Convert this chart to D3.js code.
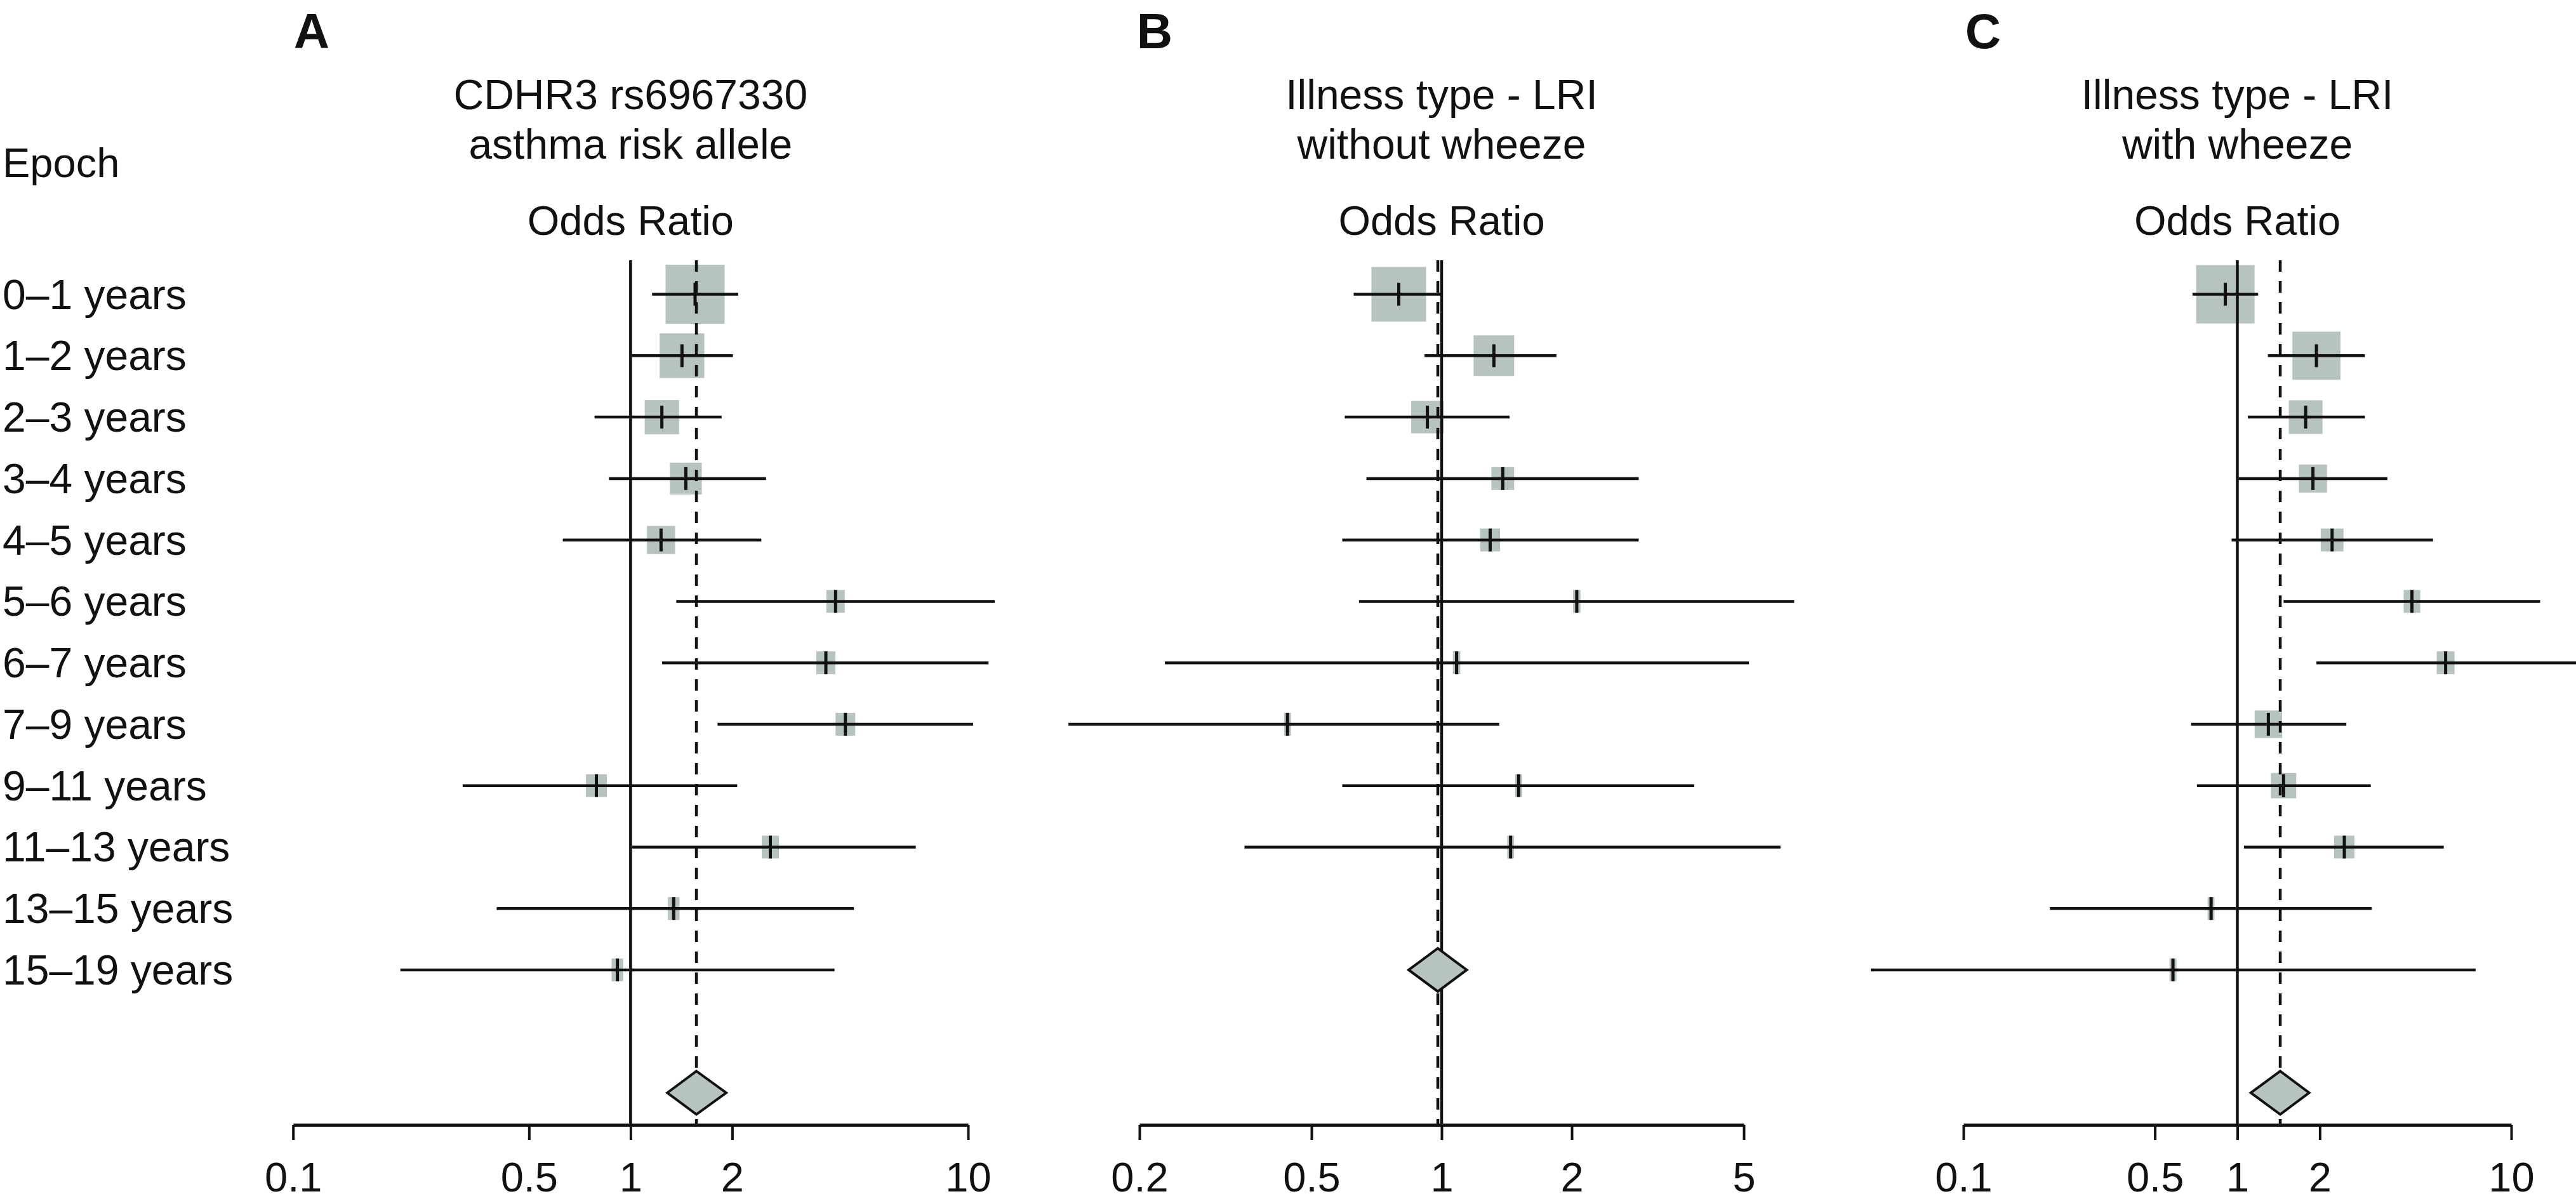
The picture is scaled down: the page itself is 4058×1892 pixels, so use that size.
<!DOCTYPE html>
<html>
<head>
<meta charset="utf-8">
<script src="https://cdn.jsdelivr.net/npm/d3@7"></script>
<style>
  html, body { margin: 0; padding: 0; background: #fff; }
  svg { display: block; }
  text { font-family: "Liberation Sans", Arial, Helvetica, sans-serif; fill: #111; }
</style>
</head>
<body>
<script>
// ---------------- DATA ----------------
const epochs = ["0–1 years","1–2 years","2–3 years","3–4 years","4–5 years","5–6 years",
                "6–7 years","7–9 years","9–11 years","11–13 years","13–15 years","15–19 years"];

// Panel A: CDHR3 rs6967330 asthma risk allele
const estA = [1.553, 1.42, 1.238, 1.458, 1.231, 4.05, 3.79, 4.33, 0.792, 2.595, 1.342, 0.914];
const loA  = [1.158, 1.01, 0.782, 0.863, 0.63, 1.366, 1.24, 1.81, 0.318, 1.01, 0.401, 0.208];
const hiA  = [2.085, 2.01, 1.861, 2.52, 2.44, 12.0, 11.5, 10.35, 2.07, 7.0, 4.59, 4.02];
const wtA  = [18.9, 14.3, 11.0, 10.2, 9.0, 5.9, 6.1, 6.3, 6.7, 5.5, 3.7, 3.7];
const sumA = [1.567, 1.285, 1.92];   // estimate, lower, upper
const ticksA = [0.1, 0.5, 1, 2, 10];

// Panel B: Illness type - LRI without wheeze
const estB = [0.796, 1.321, 0.927, 1.385, 1.295, 2.054, 1.083, 0.44, 1.507, 1.444];
const loB  = [0.626, 0.913, 0.597, 0.67, 0.589, 0.644, 0.229, 0.137, 0.589, 0.35];
const hiB  = [1.0, 1.843, 1.436, 2.857, 2.857, 6.54, 5.14, 1.359, 3.84, 6.08];
const wtB  = [17.5, 13.0, 10.4, 7.3, 6.3, 2.4, 2.4, 2.2, 2.2, 2.2];
const sumB = [0.98, 0.839, 1.143];
const ticksB = [0.2, 0.5, 1, 2, 5];

// Panel C: Illness type - LRI with wheeze
const estC = [0.904, 1.944, 1.776, 1.888, 2.218, 4.34, 5.76, 1.298, 1.475, 2.458, 0.802, 0.582];
const loC  = [0.686, 1.293, 1.093, 1.01, 0.953, 1.475, 1.944, 0.678, 0.712, 1.057, 0.207, 0.0459];
const hiC  = [1.191, 2.922, 2.922, 3.53, 5.18, 12.75, 18.0, 2.50, 3.07, 5.67, 3.095, 7.41];
const wtC  = [18.7, 15.4, 10.8, 9.0, 7.3, 5.3, 5.7, 8.8, 8.1, 6.5, 2.2, 2.2];
const sumC = [1.434, 1.12, 1.828];
const ticksC = [0.1, 0.5, 1, 2, 10];

const titles = [
  ["CDHR3 rs6967330", "asthma risk allele"],
  ["Illness type - LRI", "without wheeze"],
  ["Illness type - LRI", "with wheeze"]
];
const letters = ["A", "B", "C"];

// ---------------- LAYOUT ----------------
const W = 4058, H = 1892;
const FONT = 65;
const axisY = 1772;
const lineTop = 410;
const boxColor = "#b7c3bf";

const svg = d3.select("body").append("svg").attr("width", W).attr("height", H);

const y = d3.scaleLinear().domain([0, 13]).range([463.6, 1721.5]);
const boxPx = d3.scaleLinear().domain([0, 100]).range([0, 492]);

// left labels
svg.append("text").attr("x", 4).attr("y", 279).attr("font-size", FONT).text("Epoch");
svg.selectAll("text.row").data(epochs).enter().append("text")
  .attr("class", "row").attr("x", 4).attr("y", (d, i) => y(i) + 23)
  .attr("font-size", FONT + 1).text(d => d);

const panels = [
  {est: estA, lo: loA, hi: hiA, wt: wtA, sum: sumA, ticks: ticksA, domain: [0.1, 10], range: [461.7, 1525], letterX: 491},
  {est: estB, lo: loB, hi: hiB, wt: wtB, sum: sumB, ticks: ticksB, domain: [0.2, 5],  range: [1795, 2747],   letterX: 1819},
  {est: estC, lo: loC, hi: hiC, wt: wtC, sum: sumC, ticks: ticksC, domain: [0.1, 10], range: [3093, 3956],   letterX: 3124}
];

panels.forEach((p, k) => {
  const x = d3.scaleLog().domain(p.domain).range(p.range);
  const g = svg.append("g");
  const cx = x(1);

  // letter
  g.append("text").attr("x", p.letterX).attr("y", 76).attr("text-anchor", "middle")
    .attr("font-size", 78).attr("font-weight", "bold").text(letters[k]);
  // titles
  g.append("text").attr("x", cx).attr("y", 172).attr("text-anchor", "middle")
    .attr("font-size", FONT + 1).text(titles[k][0]);
  g.append("text").attr("x", cx).attr("y", 250).attr("text-anchor", "middle")
    .attr("font-size", FONT + 1).text(titles[k][1]);
  g.append("text").attr("x", cx).attr("y", 370).attr("text-anchor", "middle")
    .attr("font-size", FONT).text("Odds Ratio");

  const rows = p.est.map((e, i) => ({e, lo: p.lo[i], hi: p.hi[i], w: p.wt[i], i}));

  // boxes
  g.selectAll("rect.box").data(rows).enter().append("rect")
    .attr("class", "box")
    .attr("x", d => x(d.e) - boxPx(d.w) / 2)
    .attr("width", d => boxPx(d.w))
    .attr("y", d => y(d.i) - Math.max(boxPx(d.w), 36) / 2)
    .attr("height", d => Math.max(boxPx(d.w), 36))
    .attr("fill", boxColor);

  // reference line at 1 (solid)
  g.append("line").attr("x1", cx).attr("x2", cx).attr("y1", lineTop).attr("y2", axisY)
    .attr("stroke", "#111").attr("stroke-width", 4.5);
  // summary line (dashed)
  g.append("line").attr("x1", x(p.sum[0])).attr("x2", x(p.sum[0])).attr("y1", lineTop).attr("y2", axisY)
    .attr("stroke", "#111").attr("stroke-width", 4.5).attr("stroke-dasharray", "18,15");

  // CI lines
  g.selectAll("line.ci").data(rows).enter().append("line")
    .attr("class", "ci")
    .attr("x1", d => x(d.lo)).attr("x2", d => x(d.hi))
    .attr("y1", d => y(d.i)).attr("y2", d => y(d.i))
    .attr("stroke", "#111").attr("stroke-width", 4.5);
  // estimate marks
  g.selectAll("line.est").data(rows).enter().append("line")
    .attr("class", "est")
    .attr("x1", d => x(d.e)).attr("x2", d => x(d.e))
    .attr("y1", d => y(d.i) - 18).attr("y2", d => y(d.i) + 18)
    .attr("stroke", "#111").attr("stroke-width", 5);

  // summary diamond
  const dy = y(p.est.length + 1), hh = 34;
  g.append("path")
    .attr("d", `M${x(p.sum[1])},${dy} L${x(p.sum[0])},${dy - hh} L${x(p.sum[2])},${dy} L${x(p.sum[0])},${dy + hh} Z`)
    .attr("fill", boxColor).attr("stroke", "#111").attr("stroke-width", 4)
    .attr("stroke-linejoin", "miter");

  // axis
  const ax = d3.axisBottom(x).tickValues(p.ticks).tickFormat(d => String(d))
    .tickSize(24).tickSizeOuter(0).tickPadding(14);
  const ag = g.append("g").attr("transform", `translate(0,${axisY})`).call(ax);
  ag.select(".domain").attr("stroke", "#111").attr("stroke-width", 5);
  ag.selectAll(".tick line").attr("stroke", "#111").attr("stroke-width", 4);
  ag.selectAll(".tick text").attr("font-size", FONT).attr("fill", "#111")
    .attr("font-family", "Liberation Sans, Arial, sans-serif")
    .attr("dy", null).attr("y", 105);
});
</script>
</body>
</html>
